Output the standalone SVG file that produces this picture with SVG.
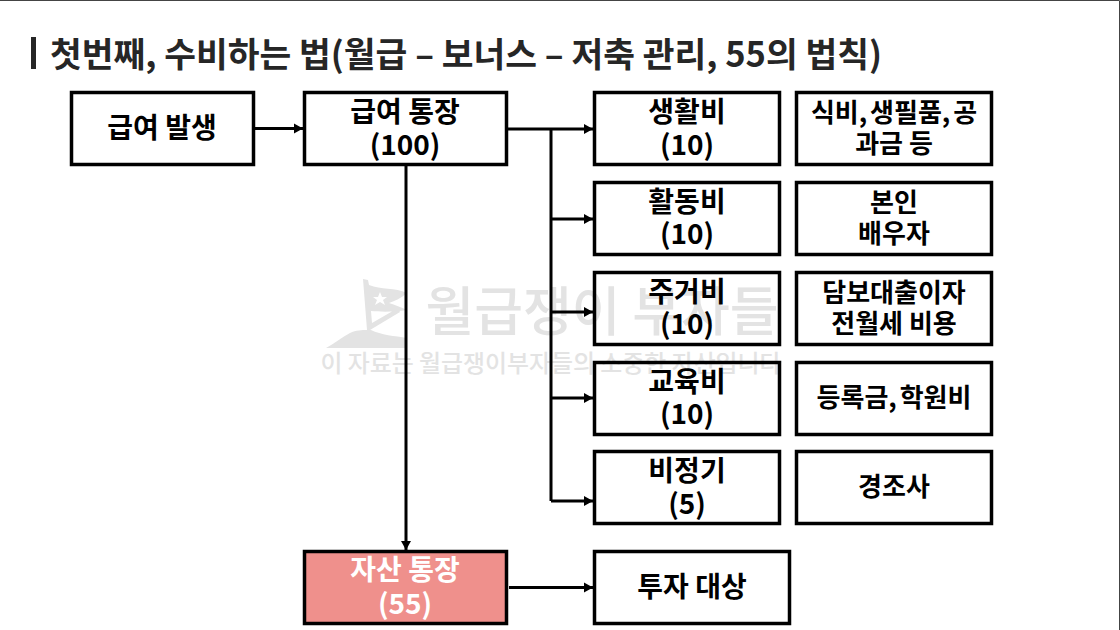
<svg xmlns="http://www.w3.org/2000/svg" width="1120" height="630" viewBox="0 0 1120 630">
<style>
text{font-family:"Noto Sans CJK KR","Noto Sans",sans-serif;text-anchor:middle}
.t{font-size:34.500px;font-weight:700;fill:#262626;text-anchor:start}
.l{font-size:28px;font-weight:700;fill:#000}
.s{font-size:26px;font-weight:700;fill:#000}
.w{font-size:28px;font-weight:700;fill:#fff}
.b{fill:none;stroke:#000;stroke-width:3.5}
.c{fill:none;stroke:#000;stroke-width:3;marker-end:url(#a)}
.n{fill:none;stroke:#000;stroke-width:3}
.wm{fill:#e3e3e3}
</style>
<defs><marker id="a" markerUnits="userSpaceOnUse" markerWidth="10" markerHeight="12" refX="9" refY="6" orient="auto"><path d="M0 1L9 6L0 11Z" fill="#000"/></marker></defs>
<rect width="1120" height="630" fill="#fff"/>
<path d="M0 .5H1119.5V630" fill="none" stroke="#444" stroke-width="1"/>
<g id="watermark">
<path class="wm" d="M363 279l5 1 1 5c12 5 26 2 38 8-6 5-12 8-18 10 6 2 12 4 18 7-12 2-26 2-36 1l1 12 26-15 2 4-30 18 1 0c10 5 24 6 36 8v10h-81c8-4 16-11 24-15 6-3 12-3 17-3l-4-51z"/>
<path d="M380 292l2 5 5 0-4 3 2 5-5-3-5 3 2-5-4-3 5 0z" fill="#fff"/>
<text x="602" y="331" font-size="53" font-weight="500" class="wm">월급쟁이 부자들</text>
<text x="551" y="372" font-size="23.900" font-weight="500" class="wm">이 자료는 월급쟁이부자들의 소중한 자산입니다</text>
</g>
<rect x="31" y="37" width="5" height="32" fill="#262626"/>
<text class="t" x="50" y="67">첫번째, 수비하는 법(월급 – 보너스 – 저축 관리, 55의 법칙)</text>
<g id="connectors">
<path class="c" d="M255 128.500H303"/>
<path class="c" d="M508 129H593"/>
<path class="n" d="M551 129V501"/>
<path class="c" d="M551 219H593"/>
<path class="c" d="M551 312H593"/>
<path class="c" d="M551 398H593"/>
<path class="c" d="M551 501H593"/>
<path class="c" d="M406 166V550"/>
<path class="c" d="M509 587.500H593"/>
</g>
<g id="n1"><rect class="b" x="71.500" y="92.500" width="182" height="72"/><text class="l" x="162" y="138">급여 발생</text></g>
<g id="n2"><rect class="b" x="304.500" y="92.500" width="202" height="72"/><text class="l" x="405" y="122">급여 통장</text><text class="l" x="405" y="155">(100)</text></g>
<g id="n3"><rect class="b" x="594.500" y="92.500" width="185" height="72"/><text class="l" x="687" y="122">생활비</text><text class="l" x="687" y="155">(10)</text></g>
<g id="n4"><rect class="b" x="796.500" y="92.500" width="195" height="72"/><text class="s" x="894" y="122" word-spacing="-3">식비, 생필품, 공</text><text class="s" x="894" y="153">과금 등</text></g>
<g id="n5"><rect class="b" x="594.500" y="182.500" width="185" height="72"/><text class="l" x="687" y="212">활동비</text><text class="l" x="687" y="244">(10)</text></g>
<g id="n6"><rect class="b" x="796.500" y="182.500" width="195" height="72"/><text class="s" x="894" y="212">본인</text><text class="s" x="894" y="243">배우자</text></g>
<g id="n7"><rect class="b" x="594.500" y="272.500" width="185" height="72"/><text class="l" x="687" y="302">주거비</text><text class="l" x="687" y="334">(10)</text></g>
<g id="n8"><rect class="b" x="796.500" y="272.500" width="195" height="72"/><text class="s" x="894" y="302">담보대출이자</text><text class="s" x="894" y="333">전월세 비용</text></g>
<g id="n9"><rect class="b" x="594.500" y="362.500" width="185" height="72"/><text class="l" x="687" y="392">교육비</text><text class="l" x="687" y="424">(10)</text></g>
<g id="n10"><rect class="b" x="796.500" y="362.500" width="195" height="72"/><text class="s" x="894" y="407" word-spacing="-3">등록금, 학원비</text></g>
<g id="n11"><rect class="b" x="594.500" y="451.500" width="185" height="72"/><text class="l" x="687" y="481">비정기</text><text class="l" x="687" y="514">(5)</text></g>
<g id="n12"><rect class="b" x="796.500" y="451.500" width="195" height="72"/><text class="s" x="894" y="496">경조사</text></g>
<g id="n13"><rect x="304.500" y="551.500" width="202" height="72" fill="#ef908c" stroke="#000" stroke-width="3.500"/><text class="w" x="405" y="580">자산 통장</text><text class="w" x="405" y="614">(55)</text></g>
<g id="n14"><rect class="b" x="594.500" y="551.500" width="195" height="72"/><text class="l" x="692" y="597">투자 대상</text></g>
</svg>
